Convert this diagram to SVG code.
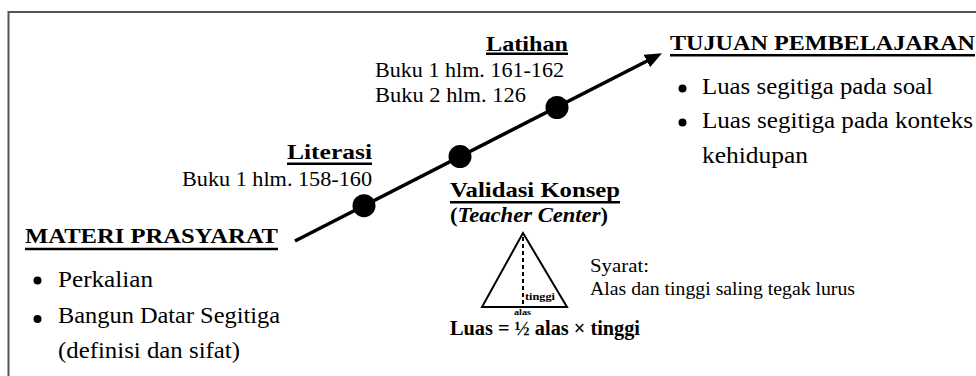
<svg xmlns="http://www.w3.org/2000/svg" width="976" height="376" viewBox="0 0 976 376" font-family="'Liberation Serif', 'Times New Roman', Times, serif">
<style>
text{font-family:'Liberation Serif','Times New Roman',Times,serif;fill:#000}
.h{font-weight:bold;font-size:22px}
.b{font-size:24px}
.s{font-size:21px}
.ul{stroke:#000;stroke-width:2.6}
.bul{fill:#000}
</style>
<defs>
<marker id="ah" markerUnits="userSpaceOnUse" markerWidth="18" markerHeight="14" refX="3" refY="7" orient="auto">
<path d="M0,0 L17,7 L0,14 z" fill="#000"/>
</marker>
</defs>
<rect x="0" y="0" width="976" height="376" fill="#fff"/>
<path d="M8.5,380 V12 H980" fill="none" stroke="#555" stroke-width="2"/>
<g id="connectors">
<line x1="295" y1="241" x2="649.5" y2="59.7" stroke="#000" stroke-width="3.5" marker-end="url(#ah)"/>
<circle cx="364" cy="205.7" r="11.5" fill="#000"/>
<circle cx="460" cy="156.6" r="11.5" fill="#000"/>
<circle cx="557" cy="107.5" r="11.5" fill="#000"/>
</g>
<g id="materi">
<text class="h" x="25" y="243" textLength="253" lengthAdjust="spacingAndGlyphs">MATERI PRASYARAT</text>
<line class="ul" x1="25" y1="249" x2="278" y2="249"/>
<circle class="bul" cx="37.5" cy="280.5" r="4"/>
<text class="b" x="58" y="287" textLength="95" lengthAdjust="spacingAndGlyphs">Perkalian</text>
<circle class="bul" cx="37.5" cy="319" r="4"/>
<text class="b" x="58" y="323" textLength="222" lengthAdjust="spacingAndGlyphs">Bangun Datar Segitiga</text>
<text class="b" x="58" y="358" textLength="182" lengthAdjust="spacingAndGlyphs">(definisi dan sifat)</text>
</g>
<g id="literasi">
<text class="h" x="287" y="159" textLength="85" lengthAdjust="spacingAndGlyphs">Literasi</text>
<line class="ul" x1="287" y1="163.8" x2="372" y2="163.8"/>
<text class="s" x="182" y="186" textLength="190" lengthAdjust="spacingAndGlyphs">Buku 1 hlm. 158-160</text>
</g>
<g id="latihan">
<text class="h" x="486" y="51" textLength="82" lengthAdjust="spacingAndGlyphs">Latihan</text>
<line class="ul" x1="486" y1="53.8" x2="568" y2="53.8"/>
<text class="s" x="375" y="76.5" textLength="189" lengthAdjust="spacingAndGlyphs">Buku 1 hlm. 161-162</text>
<text class="s" x="375" y="101.5" textLength="151" lengthAdjust="spacingAndGlyphs">Buku 2 hlm. 126</text>
</g>
<g id="tujuan">
<text class="h" x="670" y="50" textLength="305" lengthAdjust="spacingAndGlyphs">TUJUAN PEMBELAJARAN</text>
<line class="ul" x1="670" y1="55.3" x2="975" y2="55.3"/>
<circle class="bul" cx="682.5" cy="88.5" r="4"/>
<text class="b" x="702" y="94" textLength="231" lengthAdjust="spacingAndGlyphs">Luas segitiga pada soal</text>
<circle class="bul" cx="682.5" cy="122.5" r="4"/>
<text class="b" x="702" y="128" textLength="271" lengthAdjust="spacingAndGlyphs">Luas segitiga pada konteks</text>
<text class="b" x="702" y="163" textLength="106" lengthAdjust="spacingAndGlyphs">kehidupan</text>
</g>
<g id="validasi">
<text class="h" x="450" y="197" textLength="170" lengthAdjust="spacingAndGlyphs">Validasi Konsep</text>
<line class="ul" x1="450" y1="202.3" x2="620" y2="202.3"/>
<text x="450" y="222" font-size="20" font-weight="bold" textLength="158" lengthAdjust="spacingAndGlyphs">(<tspan font-style="italic">Teacher Center</tspan>)</text>
<path d="M523,233 L567,307 L482,307 Z" fill="none" stroke="#000" stroke-width="2"/>
<line x1="523" y1="237" x2="523" y2="305" stroke="#000" stroke-width="2" stroke-dasharray="4 3"/>
<text x="525" y="300" font-size="10" font-weight="bold" textLength="30" lengthAdjust="spacingAndGlyphs">tinggi</text>
<text x="514" y="315" font-size="8" font-weight="bold" textLength="17" lengthAdjust="spacingAndGlyphs">alas</text>
<text x="450" y="335" font-size="20" font-weight="bold" textLength="190" lengthAdjust="spacingAndGlyphs">Luas = ½ alas × tinggi</text>
<text x="590" y="272" font-size="18" textLength="59" lengthAdjust="spacingAndGlyphs">Syarat:</text>
<text x="590" y="295" font-size="19" textLength="265" lengthAdjust="spacingAndGlyphs">Alas dan tinggi saling tegak lurus</text>
</g>
</svg>
